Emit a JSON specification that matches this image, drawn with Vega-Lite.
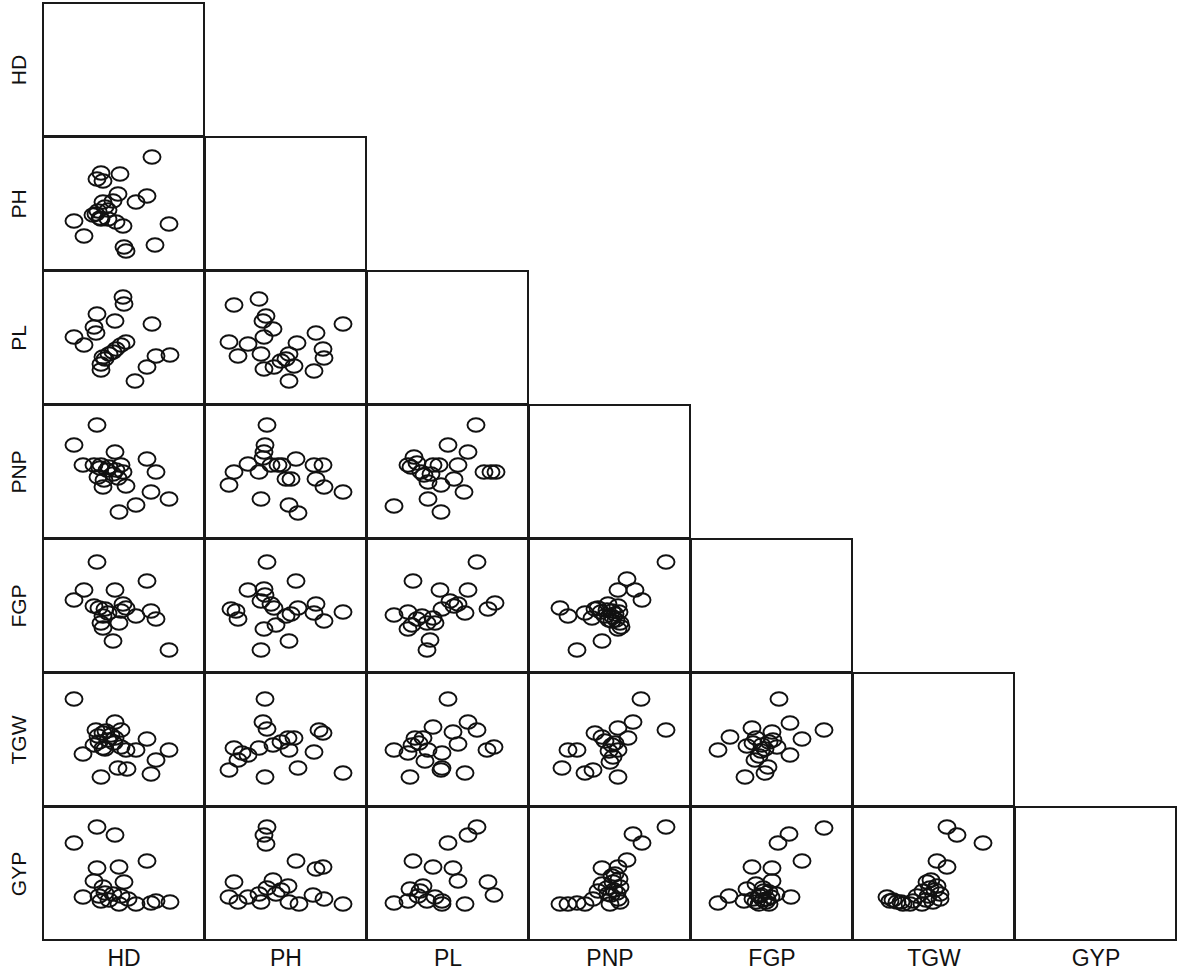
{
"$schema":"https://vega.github.io/schema/vega-lite/v6.json",
"padding":{"left":7,"top":2,"right":5,"bottom":0},
"background":"white",
"config":{
 "view":{"stroke":"#1a1a1a","strokeWidth":2},
 "concat":{"spacing":-2},
 "point":{"shape":"M-1,0A1,0.8,0,1,1,1,0A1,0.8,0,1,1,-1,0Z","filled":false,"stroke":"#111","strokeWidth":1.9,"size":290,"opacity":1},
 "axis":{"ticks":false,"labels":false,"domain":false,"grid":false,"titleFont":"Liberation Sans","titleFontWeight":"normal","titleColor":"#111"},
 "axisX":{"titleFontSize":23,"titlePadding":7},
 "axisY":{"titleFontSize":21,"titlePadding":14}
},
"datasets":{"pts":[
{"r":"PH","c":"HD","x":109,"y":113},{"r":"PH","c":"HD","x":58,"y":97},{"r":"PH","c":"HD","x":54,"y":91},{"r":"PH","c":"HD","x":60,"y":89},{"r":"PH","c":"HD","x":77,"y":96},{"r":"PH","c":"HD","x":75,"y":76},{"r":"PH","c":"HD","x":60,"y":68},{"r":"PH","c":"HD","x":70,"y":69},{"r":"PH","c":"HD","x":93,"y":68},{"r":"PH","c":"HD","x":104,"y":74},{"r":"PH","c":"HD","x":31,"y":49},{"r":"PH","c":"HD","x":41,"y":34},{"r":"PH","c":"HD","x":53,"y":56},{"r":"PH","c":"HD","x":58,"y":51},{"r":"PH","c":"HD","x":65,"y":51},{"r":"PH","c":"HD","x":73,"y":48},{"r":"PH","c":"HD","x":80,"y":44},{"r":"PH","c":"HD","x":126,"y":46},{"r":"PH","c":"HD","x":112,"y":25},{"r":"PH","c":"HD","x":81,"y":23},{"r":"PH","c":"HD","x":83,"y":19},{"r":"PH","c":"HD","x":55,"y":59},{"r":"PH","c":"HD","x":65,"y":60},{"r":"PH","c":"HD","x":62,"y":63},{"r":"PH","c":"HD","x":50,"y":55},{"r":"PH","c":"HD","x":57,"y":52},
{"r":"PL","c":"HD","x":80,"y":107},{"r":"PL","c":"HD","x":81,"y":100},{"r":"PL","c":"HD","x":54,"y":90},{"r":"PL","c":"HD","x":72,"y":83},{"r":"PL","c":"HD","x":109,"y":80},{"r":"PL","c":"HD","x":51,"y":77},{"r":"PL","c":"HD","x":53,"y":71},{"r":"PL","c":"HD","x":31,"y":67},{"r":"PL","c":"HD","x":41,"y":59},{"r":"PL","c":"HD","x":83,"y":62},{"r":"PL","c":"HD","x":78,"y":59},{"r":"PL","c":"HD","x":73,"y":55},{"r":"PL","c":"HD","x":66,"y":50},{"r":"PL","c":"HD","x":60,"y":47},{"r":"PL","c":"HD","x":58,"y":40},{"r":"PL","c":"HD","x":58,"y":34},{"r":"PL","c":"HD","x":113,"y":48},{"r":"PL","c":"HD","x":127,"y":49},{"r":"PL","c":"HD","x":104,"y":37},{"r":"PL","c":"HD","x":92,"y":23},{"r":"PL","c":"HD","x":70,"y":52},{"r":"PL","c":"HD","x":62,"y":45},
{"r":"PL","c":"PH","x":29,"y":99},{"r":"PL","c":"PH","x":54,"y":105},{"r":"PL","c":"PH","x":61,"y":88},{"r":"PL","c":"PH","x":58,"y":83},{"r":"PL","c":"PH","x":68,"y":75},{"r":"PL","c":"PH","x":59,"y":67},{"r":"PL","c":"PH","x":24,"y":62},{"r":"PL","c":"PH","x":43,"y":60},{"r":"PL","c":"PH","x":33,"y":48},{"r":"PL","c":"PH","x":56,"y":50},{"r":"PL","c":"PH","x":92,"y":61},{"r":"PL","c":"PH","x":111,"y":71},{"r":"PL","c":"PH","x":138,"y":80},{"r":"PL","c":"PH","x":118,"y":55},{"r":"PL","c":"PH","x":119,"y":46},{"r":"PL","c":"PH","x":84,"y":50},{"r":"PL","c":"PH","x":81,"y":45},{"r":"PL","c":"PH","x":89,"y":38},{"r":"PL","c":"PH","x":69,"y":37},{"r":"PL","c":"PH","x":59,"y":35},{"r":"PL","c":"PH","x":109,"y":33},{"r":"PL","c":"PH","x":84,"y":23},{"r":"PL","c":"PH","x":76,"y":43},
{"r":"PNP","c":"HD","x":54,"y":113},{"r":"PNP","c":"HD","x":31,"y":93},{"r":"PNP","c":"HD","x":72,"y":86},{"r":"PNP","c":"HD","x":40,"y":73},{"r":"PNP","c":"HD","x":51,"y":73},{"r":"PNP","c":"HD","x":58,"y":73},{"r":"PNP","c":"HD","x":66,"y":71},{"r":"PNP","c":"HD","x":78,"y":73},{"r":"PNP","c":"HD","x":80,"y":66},{"r":"PNP","c":"HD","x":55,"y":61},{"r":"PNP","c":"HD","x":61,"y":58},{"r":"PNP","c":"HD","x":70,"y":64},{"r":"PNP","c":"HD","x":60,"y":51},{"r":"PNP","c":"HD","x":83,"y":52},{"r":"PNP","c":"HD","x":104,"y":79},{"r":"PNP","c":"HD","x":113,"y":66},{"r":"PNP","c":"HD","x":108,"y":46},{"r":"PNP","c":"HD","x":126,"y":39},{"r":"PNP","c":"HD","x":93,"y":33},{"r":"PNP","c":"HD","x":76,"y":26},{"r":"PNP","c":"HD","x":64,"y":68},{"r":"PNP","c":"HD","x":75,"y":60},{"r":"PNP","c":"HD","x":57,"y":70},{"r":"PNP","c":"HD","x":73,"y":68},
{"r":"PNP","c":"PH","x":62,"y":113},{"r":"PNP","c":"PH","x":60,"y":93},{"r":"PNP","c":"PH","x":59,"y":86},{"r":"PNP","c":"PH","x":29,"y":66},{"r":"PNP","c":"PH","x":43,"y":74},{"r":"PNP","c":"PH","x":54,"y":66},{"r":"PNP","c":"PH","x":66,"y":73},{"r":"PNP","c":"PH","x":73,"y":73},{"r":"PNP","c":"PH","x":91,"y":79},{"r":"PNP","c":"PH","x":109,"y":73},{"r":"PNP","c":"PH","x":118,"y":73},{"r":"PNP","c":"PH","x":81,"y":59},{"r":"PNP","c":"PH","x":86,"y":59},{"r":"PNP","c":"PH","x":111,"y":59},{"r":"PNP","c":"PH","x":119,"y":51},{"r":"PNP","c":"PH","x":138,"y":46},{"r":"PNP","c":"PH","x":24,"y":53},{"r":"PNP","c":"PH","x":56,"y":39},{"r":"PNP","c":"PH","x":84,"y":33},{"r":"PNP","c":"PH","x":93,"y":25},{"r":"PNP","c":"PH","x":58,"y":80},{"r":"PNP","c":"PH","x":77,"y":73},
{"r":"PNP","c":"PL","x":109,"y":113},{"r":"PNP","c":"PL","x":81,"y":93},{"r":"PNP","c":"PL","x":101,"y":86},{"r":"PNP","c":"PL","x":47,"y":81},{"r":"PNP","c":"PL","x":41,"y":73},{"r":"PNP","c":"PL","x":44,"y":71},{"r":"PNP","c":"PL","x":66,"y":73},{"r":"PNP","c":"PL","x":72,"y":73},{"r":"PNP","c":"PL","x":91,"y":73},{"r":"PNP","c":"PL","x":57,"y":63},{"r":"PNP","c":"PL","x":61,"y":56},{"r":"PNP","c":"PL","x":74,"y":53},{"r":"PNP","c":"PL","x":87,"y":59},{"r":"PNP","c":"PL","x":97,"y":46},{"r":"PNP","c":"PL","x":117,"y":66},{"r":"PNP","c":"PL","x":124,"y":66},{"r":"PNP","c":"PL","x":129,"y":66},{"r":"PNP","c":"PL","x":27,"y":32},{"r":"PNP","c":"PL","x":61,"y":39},{"r":"PNP","c":"PL","x":74,"y":26},{"r":"PNP","c":"PL","x":54,"y":66},{"r":"PNP","c":"PL","x":50,"y":75},{"r":"PNP","c":"PL","x":64,"y":64},
{"r":"FGP","c":"HD","x":54,"y":110},{"r":"FGP","c":"HD","x":104,"y":91},{"r":"FGP","c":"HD","x":41,"y":82},{"r":"FGP","c":"HD","x":72,"y":82},{"r":"FGP","c":"HD","x":31,"y":72},{"r":"FGP","c":"HD","x":51,"y":66},{"r":"FGP","c":"HD","x":56,"y":64},{"r":"FGP","c":"HD","x":80,"y":68},{"r":"FGP","c":"HD","x":83,"y":64},{"r":"FGP","c":"HD","x":78,"y":61},{"r":"FGP","c":"HD","x":60,"y":56},{"r":"FGP","c":"HD","x":58,"y":49},{"r":"FGP","c":"HD","x":60,"y":44},{"r":"FGP","c":"HD","x":76,"y":49},{"r":"FGP","c":"HD","x":93,"y":56},{"r":"FGP","c":"HD","x":108,"y":61},{"r":"FGP","c":"HD","x":113,"y":53},{"r":"FGP","c":"HD","x":70,"y":31},{"r":"FGP","c":"HD","x":126,"y":22},{"r":"FGP","c":"HD","x":65,"y":59},{"r":"FGP","c":"HD","x":62,"y":63},
{"r":"FGP","c":"PH","x":62,"y":110},{"r":"FGP","c":"PH","x":91,"y":91},{"r":"FGP","c":"PH","x":43,"y":82},{"r":"FGP","c":"PH","x":59,"y":83},{"r":"FGP","c":"PH","x":56,"y":71},{"r":"FGP","c":"PH","x":66,"y":68},{"r":"FGP","c":"PH","x":26,"y":63},{"r":"FGP","c":"PH","x":31,"y":61},{"r":"FGP","c":"PH","x":33,"y":53},{"r":"FGP","c":"PH","x":69,"y":64},{"r":"FGP","c":"PH","x":81,"y":56},{"r":"FGP","c":"PH","x":93,"y":64},{"r":"FGP","c":"PH","x":111,"y":68},{"r":"FGP","c":"PH","x":109,"y":59},{"r":"FGP","c":"PH","x":119,"y":51},{"r":"FGP","c":"PH","x":138,"y":60},{"r":"FGP","c":"PH","x":59,"y":43},{"r":"FGP","c":"PH","x":71,"y":47},{"r":"FGP","c":"PH","x":84,"y":31},{"r":"FGP","c":"PH","x":56,"y":22},{"r":"FGP","c":"PH","x":86,"y":58},{"r":"FGP","c":"PH","x":60,"y":77},
{"r":"FGP","c":"PL","x":110,"y":110},{"r":"FGP","c":"PL","x":46,"y":91},{"r":"FGP","c":"PL","x":73,"y":82},{"r":"FGP","c":"PL","x":101,"y":82},{"r":"FGP","c":"PL","x":83,"y":71},{"r":"FGP","c":"PL","x":91,"y":68},{"r":"FGP","c":"PL","x":75,"y":63},{"r":"FGP","c":"PL","x":98,"y":59},{"r":"FGP","c":"PL","x":128,"y":69},{"r":"FGP","c":"PL","x":121,"y":63},{"r":"FGP","c":"PL","x":27,"y":57},{"r":"FGP","c":"PL","x":41,"y":60},{"r":"FGP","c":"PL","x":55,"y":56},{"r":"FGP","c":"PL","x":66,"y":54},{"r":"FGP","c":"PL","x":45,"y":47},{"r":"FGP","c":"PL","x":41,"y":43},{"r":"FGP","c":"PL","x":60,"y":49},{"r":"FGP","c":"PL","x":68,"y":49},{"r":"FGP","c":"PL","x":63,"y":32},{"r":"FGP","c":"PL","x":60,"y":22},{"r":"FGP","c":"PL","x":87,"y":66},{"r":"FGP","c":"PL","x":50,"y":53},
{"r":"FGP","c":"PNP","x":137,"y":110},{"r":"FGP","c":"PNP","x":98,"y":93},{"r":"FGP","c":"PNP","x":89,"y":82},{"r":"FGP","c":"PNP","x":106,"y":82},{"r":"FGP","c":"PNP","x":113,"y":72},{"r":"FGP","c":"PNP","x":31,"y":64},{"r":"FGP","c":"PNP","x":39,"y":56},{"r":"FGP","c":"PNP","x":56,"y":59},{"r":"FGP","c":"PNP","x":63,"y":54},{"r":"FGP","c":"PNP","x":69,"y":64},{"r":"FGP","c":"PNP","x":79,"y":68},{"r":"FGP","c":"PNP","x":89,"y":66},{"r":"FGP","c":"PNP","x":76,"y":56},{"r":"FGP","c":"PNP","x":86,"y":58},{"r":"FGP","c":"PNP","x":91,"y":49},{"r":"FGP","c":"PNP","x":89,"y":43},{"r":"FGP","c":"PNP","x":83,"y":51},{"r":"FGP","c":"PNP","x":73,"y":31},{"r":"FGP","c":"PNP","x":48,"y":22},{"r":"FGP","c":"PNP","x":66,"y":63},{"r":"FGP","c":"PNP","x":83,"y":61},{"r":"FGP","c":"PNP","x":72,"y":60},{"r":"FGP","c":"PNP","x":80,"y":52},{"r":"FGP","c":"PNP","x":78,"y":62},{"r":"FGP","c":"PNP","x":84,"y":55},{"r":"FGP","c":"PNP","x":90,"y":60},{"r":"FGP","c":"PNP","x":87,"y":52},{"r":"FGP","c":"PNP","x":92,"y":45},
{"r":"TGW","c":"HD","x":31,"y":107},{"r":"TGW","c":"HD","x":72,"y":84},{"r":"TGW","c":"HD","x":53,"y":76},{"r":"TGW","c":"HD","x":60,"y":73},{"r":"TGW","c":"HD","x":68,"y":71},{"r":"TGW","c":"HD","x":78,"y":76},{"r":"TGW","c":"HD","x":56,"y":64},{"r":"TGW","c":"HD","x":51,"y":61},{"r":"TGW","c":"HD","x":60,"y":58},{"r":"TGW","c":"HD","x":78,"y":59},{"r":"TGW","c":"HD","x":83,"y":56},{"r":"TGW","c":"HD","x":93,"y":56},{"r":"TGW","c":"HD","x":104,"y":67},{"r":"TGW","c":"HD","x":126,"y":56},{"r":"TGW","c":"HD","x":40,"y":52},{"r":"TGW","c":"HD","x":113,"y":46},{"r":"TGW","c":"HD","x":108,"y":32},{"r":"TGW","c":"HD","x":75,"y":38},{"r":"TGW","c":"HD","x":84,"y":37},{"r":"TGW","c":"HD","x":58,"y":29},{"r":"TGW","c":"HD","x":65,"y":66},{"r":"TGW","c":"HD","x":71,"y":63},{"r":"TGW","c":"HD","x":55,"y":70},{"r":"TGW","c":"HD","x":63,"y":75},{"r":"TGW","c":"HD","x":72,"y":68},{"r":"TGW","c":"HD","x":62,"y":57},
{"r":"TGW","c":"PH","x":60,"y":107},{"r":"TGW","c":"PH","x":58,"y":84},{"r":"TGW","c":"PH","x":62,"y":77},{"r":"TGW","c":"PH","x":29,"y":58},{"r":"TGW","c":"PH","x":43,"y":51},{"r":"TGW","c":"PH","x":33,"y":46},{"r":"TGW","c":"PH","x":24,"y":36},{"r":"TGW","c":"PH","x":54,"y":58},{"r":"TGW","c":"PH","x":68,"y":61},{"r":"TGW","c":"PH","x":83,"y":68},{"r":"TGW","c":"PH","x":89,"y":68},{"r":"TGW","c":"PH","x":84,"y":56},{"r":"TGW","c":"PH","x":114,"y":76},{"r":"TGW","c":"PH","x":118,"y":73},{"r":"TGW","c":"PH","x":109,"y":54},{"r":"TGW","c":"PH","x":93,"y":38},{"r":"TGW","c":"PH","x":60,"y":29},{"r":"TGW","c":"PH","x":138,"y":33},{"r":"TGW","c":"PH","x":76,"y":64},{"r":"TGW","c":"PH","x":37,"y":53},
{"r":"TGW","c":"PL","x":81,"y":107},{"r":"TGW","c":"PL","x":101,"y":84},{"r":"TGW","c":"PL","x":110,"y":76},{"r":"TGW","c":"PL","x":86,"y":74},{"r":"TGW","c":"PL","x":66,"y":79},{"r":"TGW","c":"PL","x":48,"y":68},{"r":"TGW","c":"PL","x":56,"y":68},{"r":"TGW","c":"PL","x":45,"y":61},{"r":"TGW","c":"PL","x":61,"y":56},{"r":"TGW","c":"PL","x":91,"y":62},{"r":"TGW","c":"PL","x":27,"y":56},{"r":"TGW","c":"PL","x":41,"y":53},{"r":"TGW","c":"PL","x":75,"y":53},{"r":"TGW","c":"PL","x":58,"y":45},{"r":"TGW","c":"PL","x":75,"y":38},{"r":"TGW","c":"PL","x":120,"y":56},{"r":"TGW","c":"PL","x":127,"y":59},{"r":"TGW","c":"PL","x":98,"y":33},{"r":"TGW","c":"PL","x":43,"y":29},{"r":"TGW","c":"PL","x":52,"y":63},{"r":"TGW","c":"PL","x":74,"y":36},
{"r":"TGW","c":"PNP","x":112,"y":107},{"r":"TGW","c":"PNP","x":137,"y":76},{"r":"TGW","c":"PNP","x":104,"y":84},{"r":"TGW","c":"PNP","x":89,"y":78},{"r":"TGW","c":"PNP","x":66,"y":73},{"r":"TGW","c":"PNP","x":73,"y":69},{"r":"TGW","c":"PNP","x":99,"y":68},{"r":"TGW","c":"PNP","x":83,"y":61},{"r":"TGW","c":"PNP","x":89,"y":56},{"r":"TGW","c":"PNP","x":84,"y":49},{"r":"TGW","c":"PNP","x":39,"y":56},{"r":"TGW","c":"PNP","x":48,"y":56},{"r":"TGW","c":"PNP","x":33,"y":38},{"r":"TGW","c":"PNP","x":56,"y":33},{"r":"TGW","c":"PNP","x":64,"y":36},{"r":"TGW","c":"PNP","x":81,"y":44},{"r":"TGW","c":"PNP","x":89,"y":29},{"r":"TGW","c":"PNP","x":76,"y":65},{"r":"TGW","c":"PNP","x":86,"y":63},{"r":"TGW","c":"PNP","x":80,"y":55},
{"r":"TGW","c":"FGP","x":88,"y":107},{"r":"TGW","c":"FGP","x":99,"y":83},{"r":"TGW","c":"FGP","x":133,"y":76},{"r":"TGW","c":"FGP","x":61,"y":78},{"r":"TGW","c":"FGP","x":81,"y":74},{"r":"TGW","c":"FGP","x":39,"y":69},{"r":"TGW","c":"FGP","x":27,"y":56},{"r":"TGW","c":"FGP","x":56,"y":60},{"r":"TGW","c":"FGP","x":71,"y":61},{"r":"TGW","c":"FGP","x":86,"y":59},{"r":"TGW","c":"FGP","x":111,"y":67},{"r":"TGW","c":"FGP","x":99,"y":51},{"r":"TGW","c":"FGP","x":64,"y":46},{"r":"TGW","c":"FGP","x":77,"y":39},{"r":"TGW","c":"FGP","x":74,"y":33},{"r":"TGW","c":"FGP","x":54,"y":29},{"r":"TGW","c":"FGP","x":65,"y":68},{"r":"TGW","c":"FGP","x":70,"y":55},{"r":"TGW","c":"FGP","x":78,"y":64},{"r":"TGW","c":"FGP","x":62,"y":63},{"r":"TGW","c":"FGP","x":74,"y":57},{"r":"TGW","c":"FGP","x":68,"y":50},{"r":"TGW","c":"FGP","x":82,"y":66},
{"r":"GYP","c":"HD","x":54,"y":113},{"r":"GYP","c":"HD","x":72,"y":105},{"r":"GYP","c":"HD","x":31,"y":97},{"r":"GYP","c":"HD","x":104,"y":79},{"r":"GYP","c":"HD","x":54,"y":72},{"r":"GYP","c":"HD","x":76,"y":73},{"r":"GYP","c":"HD","x":51,"y":59},{"r":"GYP","c":"HD","x":81,"y":58},{"r":"GYP","c":"HD","x":60,"y":53},{"r":"GYP","c":"HD","x":40,"y":43},{"r":"GYP","c":"HD","x":56,"y":44},{"r":"GYP","c":"HD","x":58,"y":39},{"r":"GYP","c":"HD","x":70,"y":46},{"r":"GYP","c":"HD","x":78,"y":44},{"r":"GYP","c":"HD","x":85,"y":41},{"r":"GYP","c":"HD","x":76,"y":36},{"r":"GYP","c":"HD","x":93,"y":36},{"r":"GYP","c":"HD","x":108,"y":37},{"r":"GYP","c":"HD","x":113,"y":39},{"r":"GYP","c":"HD","x":127,"y":38},{"r":"GYP","c":"HD","x":62,"y":47},{"r":"GYP","c":"HD","x":66,"y":40},
{"r":"GYP","c":"PH","x":62,"y":113},{"r":"GYP","c":"PH","x":59,"y":105},{"r":"GYP","c":"PH","x":61,"y":96},{"r":"GYP","c":"PH","x":91,"y":79},{"r":"GYP","c":"PH","x":111,"y":71},{"r":"GYP","c":"PH","x":118,"y":73},{"r":"GYP","c":"PH","x":29,"y":58},{"r":"GYP","c":"PH","x":68,"y":60},{"r":"GYP","c":"PH","x":83,"y":54},{"r":"GYP","c":"PH","x":24,"y":43},{"r":"GYP","c":"PH","x":33,"y":38},{"r":"GYP","c":"PH","x":43,"y":43},{"r":"GYP","c":"PH","x":54,"y":46},{"r":"GYP","c":"PH","x":56,"y":38},{"r":"GYP","c":"PH","x":71,"y":46},{"r":"GYP","c":"PH","x":84,"y":38},{"r":"GYP","c":"PH","x":94,"y":36},{"r":"GYP","c":"PH","x":108,"y":45},{"r":"GYP","c":"PH","x":119,"y":41},{"r":"GYP","c":"PH","x":138,"y":36},{"r":"GYP","c":"PH","x":76,"y":50},{"r":"GYP","c":"PH","x":62,"y":52},
{"r":"GYP","c":"PL","x":110,"y":113},{"r":"GYP","c":"PL","x":101,"y":105},{"r":"GYP","c":"PL","x":81,"y":97},{"r":"GYP","c":"PL","x":46,"y":79},{"r":"GYP","c":"PL","x":66,"y":73},{"r":"GYP","c":"PL","x":86,"y":72},{"r":"GYP","c":"PL","x":91,"y":59},{"r":"GYP","c":"PL","x":121,"y":58},{"r":"GYP","c":"PL","x":127,"y":45},{"r":"GYP","c":"PL","x":27,"y":37},{"r":"GYP","c":"PL","x":43,"y":51},{"r":"GYP","c":"PL","x":56,"y":54},{"r":"GYP","c":"PL","x":41,"y":39},{"r":"GYP","c":"PL","x":51,"y":44},{"r":"GYP","c":"PL","x":60,"y":39},{"r":"GYP","c":"PL","x":68,"y":43},{"r":"GYP","c":"PL","x":75,"y":39},{"r":"GYP","c":"PL","x":75,"y":36},{"r":"GYP","c":"PL","x":98,"y":36},{"r":"GYP","c":"PL","x":53,"y":49},
{"r":"GYP","c":"PNP","x":137,"y":113},{"r":"GYP","c":"PNP","x":104,"y":106},{"r":"GYP","c":"PNP","x":113,"y":97},{"r":"GYP","c":"PNP","x":98,"y":80},{"r":"GYP","c":"PNP","x":89,"y":73},{"r":"GYP","c":"PNP","x":73,"y":72},{"r":"GYP","c":"PNP","x":73,"y":56},{"r":"GYP","c":"PNP","x":84,"y":58},{"r":"GYP","c":"PNP","x":91,"y":53},{"r":"GYP","c":"PNP","x":79,"y":46},{"r":"GYP","c":"PNP","x":89,"y":41},{"r":"GYP","c":"PNP","x":64,"y":41},{"r":"GYP","c":"PNP","x":81,"y":36},{"r":"GYP","c":"PNP","x":31,"y":36},{"r":"GYP","c":"PNP","x":39,"y":36},{"r":"GYP","c":"PNP","x":48,"y":37},{"r":"GYP","c":"PNP","x":56,"y":36},{"r":"GYP","c":"PNP","x":69,"y":49},{"r":"GYP","c":"PNP","x":83,"y":64},{"r":"GYP","c":"PNP","x":90,"y":61},{"r":"GYP","c":"PNP","x":78,"y":52},{"r":"GYP","c":"PNP","x":88,"y":47},{"r":"GYP","c":"PNP","x":86,"y":66},{"r":"GYP","c":"PNP","x":82,"y":45},{"r":"GYP","c":"PNP","x":91,"y":38},{"r":"GYP","c":"PNP","x":85,"y":50},
{"r":"GYP","c":"FGP","x":133,"y":112},{"r":"GYP","c":"FGP","x":98,"y":106},{"r":"GYP","c":"FGP","x":87,"y":97},{"r":"GYP","c":"FGP","x":111,"y":79},{"r":"GYP","c":"FGP","x":61,"y":73},{"r":"GYP","c":"FGP","x":81,"y":72},{"r":"GYP","c":"FGP","x":81,"y":59},{"r":"GYP","c":"FGP","x":65,"y":56},{"r":"GYP","c":"FGP","x":56,"y":51},{"r":"GYP","c":"FGP","x":38,"y":44},{"r":"GYP","c":"FGP","x":27,"y":37},{"r":"GYP","c":"FGP","x":53,"y":39},{"r":"GYP","c":"FGP","x":68,"y":44},{"r":"GYP","c":"FGP","x":76,"y":41},{"r":"GYP","c":"FGP","x":68,"y":36},{"r":"GYP","c":"FGP","x":78,"y":36},{"r":"GYP","c":"FGP","x":85,"y":46},{"r":"GYP","c":"FGP","x":100,"y":43},{"r":"GYP","c":"FGP","x":73,"y":49},{"r":"GYP","c":"FGP","x":72,"y":40},{"r":"GYP","c":"FGP","x":62,"y":41},{"r":"GYP","c":"FGP","x":70,"y":45},{"r":"GYP","c":"FGP","x":75,"y":38},{"r":"GYP","c":"FGP","x":80,"y":43},{"r":"GYP","c":"FGP","x":65,"y":38},{"r":"GYP","c":"FGP","x":72,"y":52},{"r":"GYP","c":"FGP","x":78,"y":48},
{"r":"GYP","c":"TGW","x":94,"y":113},{"r":"GYP","c":"TGW","x":104,"y":105},{"r":"GYP","c":"TGW","x":130,"y":97},{"r":"GYP","c":"TGW","x":84,"y":79},{"r":"GYP","c":"TGW","x":94,"y":73},{"r":"GYP","c":"TGW","x":74,"y":58},{"r":"GYP","c":"TGW","x":84,"y":54},{"r":"GYP","c":"TGW","x":70,"y":49},{"r":"GYP","c":"TGW","x":87,"y":46},{"r":"GYP","c":"TGW","x":37,"y":39},{"r":"GYP","c":"TGW","x":44,"y":38},{"r":"GYP","c":"TGW","x":50,"y":36},{"r":"GYP","c":"TGW","x":60,"y":39},{"r":"GYP","c":"TGW","x":69,"y":36},{"r":"GYP","c":"TGW","x":80,"y":38},{"r":"GYP","c":"TGW","x":87,"y":41},{"r":"GYP","c":"TGW","x":34,"y":43},{"r":"GYP","c":"TGW","x":57,"y":36},{"r":"GYP","c":"TGW","x":77,"y":52},{"r":"GYP","c":"TGW","x":64,"y":44},{"r":"GYP","c":"TGW","x":78,"y":60},{"r":"GYP","c":"TGW","x":82,"y":50},{"r":"GYP","c":"TGW","x":75,"y":44},{"r":"GYP","c":"TGW","x":40,"y":40},{"r":"GYP","c":"TGW","x":48,"y":38},{"r":"GYP","c":"TGW","x":73,"y":40}
]},
"spacing":-2,
"vconcat":[
 {"spacing":-2,"hconcat":[
  {"width":161,"height":133,"data":{"name":"pts"},"transform":[{"filter":"false"}],"mark":"point","encoding":{"x":{"field":"x","type":"quantitative","scale":{"domain":[0,161],"nice":false,"zero":false},"axis":null},"y":{"field":"y","type":"quantitative","scale":{"domain":[0,133],"nice":false,"zero":false},"title":"HD","axis":{}}}}
 ]},
 {"spacing":-2,"hconcat":[
  {"width":161,"height":133,"data":{"name":"pts"},"transform":[{"filter":"datum.r=='PH'&&datum.c=='HD'"}],"mark":"point","encoding":{"x":{"field":"x","type":"quantitative","scale":{"domain":[0,161],"nice":false,"zero":false},"axis":null},"y":{"field":"y","type":"quantitative","scale":{"domain":[0,133],"nice":false,"zero":false},"title":"PH","axis":{}}}},
  {"width":161,"height":133,"data":{"name":"pts"},"transform":[{"filter":"false"}],"mark":"point","encoding":{"x":{"field":"x","type":"quantitative","scale":{"domain":[0,161],"nice":false,"zero":false},"axis":null},"y":{"field":"y","type":"quantitative","scale":{"domain":[0,133],"nice":false,"zero":false},"axis":null}}}
 ]},
 {"spacing":-2,"hconcat":[
  {"width":161,"height":133,"data":{"name":"pts"},"transform":[{"filter":"datum.r=='PL'&&datum.c=='HD'"}],"mark":"point","encoding":{"x":{"field":"x","type":"quantitative","scale":{"domain":[0,161],"nice":false,"zero":false},"axis":null},"y":{"field":"y","type":"quantitative","scale":{"domain":[0,133],"nice":false,"zero":false},"title":"PL","axis":{}}}},
  {"width":161,"height":133,"data":{"name":"pts"},"transform":[{"filter":"datum.r=='PL'&&datum.c=='PH'"}],"mark":"point","encoding":{"x":{"field":"x","type":"quantitative","scale":{"domain":[0,161],"nice":false,"zero":false},"axis":null},"y":{"field":"y","type":"quantitative","scale":{"domain":[0,133],"nice":false,"zero":false},"axis":null}}},
  {"width":161,"height":133,"data":{"name":"pts"},"transform":[{"filter":"false"}],"mark":"point","encoding":{"x":{"field":"x","type":"quantitative","scale":{"domain":[0,161],"nice":false,"zero":false},"axis":null},"y":{"field":"y","type":"quantitative","scale":{"domain":[0,133],"nice":false,"zero":false},"axis":null}}}
 ]},
 {"spacing":-2,"hconcat":[
  {"width":161,"height":133,"data":{"name":"pts"},"transform":[{"filter":"datum.r=='PNP'&&datum.c=='HD'"}],"mark":"point","encoding":{"x":{"field":"x","type":"quantitative","scale":{"domain":[0,161],"nice":false,"zero":false},"axis":null},"y":{"field":"y","type":"quantitative","scale":{"domain":[0,133],"nice":false,"zero":false},"title":"PNP","axis":{}}}},
  {"width":161,"height":133,"data":{"name":"pts"},"transform":[{"filter":"datum.r=='PNP'&&datum.c=='PH'"}],"mark":"point","encoding":{"x":{"field":"x","type":"quantitative","scale":{"domain":[0,161],"nice":false,"zero":false},"axis":null},"y":{"field":"y","type":"quantitative","scale":{"domain":[0,133],"nice":false,"zero":false},"axis":null}}},
  {"width":161,"height":133,"data":{"name":"pts"},"transform":[{"filter":"datum.r=='PNP'&&datum.c=='PL'"}],"mark":"point","encoding":{"x":{"field":"x","type":"quantitative","scale":{"domain":[0,161],"nice":false,"zero":false},"axis":null},"y":{"field":"y","type":"quantitative","scale":{"domain":[0,133],"nice":false,"zero":false},"axis":null}}},
  {"width":161,"height":133,"data":{"name":"pts"},"transform":[{"filter":"false"}],"mark":"point","encoding":{"x":{"field":"x","type":"quantitative","scale":{"domain":[0,161],"nice":false,"zero":false},"axis":null},"y":{"field":"y","type":"quantitative","scale":{"domain":[0,133],"nice":false,"zero":false},"axis":null}}}
 ]},
 {"spacing":-2,"hconcat":[
  {"width":161,"height":133,"data":{"name":"pts"},"transform":[{"filter":"datum.r=='FGP'&&datum.c=='HD'"}],"mark":"point","encoding":{"x":{"field":"x","type":"quantitative","scale":{"domain":[0,161],"nice":false,"zero":false},"axis":null},"y":{"field":"y","type":"quantitative","scale":{"domain":[0,133],"nice":false,"zero":false},"title":"FGP","axis":{}}}},
  {"width":161,"height":133,"data":{"name":"pts"},"transform":[{"filter":"datum.r=='FGP'&&datum.c=='PH'"}],"mark":"point","encoding":{"x":{"field":"x","type":"quantitative","scale":{"domain":[0,161],"nice":false,"zero":false},"axis":null},"y":{"field":"y","type":"quantitative","scale":{"domain":[0,133],"nice":false,"zero":false},"axis":null}}},
  {"width":161,"height":133,"data":{"name":"pts"},"transform":[{"filter":"datum.r=='FGP'&&datum.c=='PL'"}],"mark":"point","encoding":{"x":{"field":"x","type":"quantitative","scale":{"domain":[0,161],"nice":false,"zero":false},"axis":null},"y":{"field":"y","type":"quantitative","scale":{"domain":[0,133],"nice":false,"zero":false},"axis":null}}},
  {"width":161,"height":133,"data":{"name":"pts"},"transform":[{"filter":"datum.r=='FGP'&&datum.c=='PNP'"}],"mark":"point","encoding":{"x":{"field":"x","type":"quantitative","scale":{"domain":[0,161],"nice":false,"zero":false},"axis":null},"y":{"field":"y","type":"quantitative","scale":{"domain":[0,133],"nice":false,"zero":false},"axis":null}}},
  {"width":161,"height":133,"data":{"name":"pts"},"transform":[{"filter":"false"}],"mark":"point","encoding":{"x":{"field":"x","type":"quantitative","scale":{"domain":[0,161],"nice":false,"zero":false},"axis":null},"y":{"field":"y","type":"quantitative","scale":{"domain":[0,133],"nice":false,"zero":false},"axis":null}}}
 ]},
 {"spacing":-2,"hconcat":[
  {"width":161,"height":133,"data":{"name":"pts"},"transform":[{"filter":"datum.r=='TGW'&&datum.c=='HD'"}],"mark":"point","encoding":{"x":{"field":"x","type":"quantitative","scale":{"domain":[0,161],"nice":false,"zero":false},"axis":null},"y":{"field":"y","type":"quantitative","scale":{"domain":[0,133],"nice":false,"zero":false},"title":"TGW","axis":{}}}},
  {"width":161,"height":133,"data":{"name":"pts"},"transform":[{"filter":"datum.r=='TGW'&&datum.c=='PH'"}],"mark":"point","encoding":{"x":{"field":"x","type":"quantitative","scale":{"domain":[0,161],"nice":false,"zero":false},"axis":null},"y":{"field":"y","type":"quantitative","scale":{"domain":[0,133],"nice":false,"zero":false},"axis":null}}},
  {"width":161,"height":133,"data":{"name":"pts"},"transform":[{"filter":"datum.r=='TGW'&&datum.c=='PL'"}],"mark":"point","encoding":{"x":{"field":"x","type":"quantitative","scale":{"domain":[0,161],"nice":false,"zero":false},"axis":null},"y":{"field":"y","type":"quantitative","scale":{"domain":[0,133],"nice":false,"zero":false},"axis":null}}},
  {"width":161,"height":133,"data":{"name":"pts"},"transform":[{"filter":"datum.r=='TGW'&&datum.c=='PNP'"}],"mark":"point","encoding":{"x":{"field":"x","type":"quantitative","scale":{"domain":[0,161],"nice":false,"zero":false},"axis":null},"y":{"field":"y","type":"quantitative","scale":{"domain":[0,133],"nice":false,"zero":false},"axis":null}}},
  {"width":161,"height":133,"data":{"name":"pts"},"transform":[{"filter":"datum.r=='TGW'&&datum.c=='FGP'"}],"mark":"point","encoding":{"x":{"field":"x","type":"quantitative","scale":{"domain":[0,161],"nice":false,"zero":false},"axis":null},"y":{"field":"y","type":"quantitative","scale":{"domain":[0,133],"nice":false,"zero":false},"axis":null}}},
  {"width":161,"height":133,"data":{"name":"pts"},"transform":[{"filter":"false"}],"mark":"point","encoding":{"x":{"field":"x","type":"quantitative","scale":{"domain":[0,161],"nice":false,"zero":false},"axis":null},"y":{"field":"y","type":"quantitative","scale":{"domain":[0,133],"nice":false,"zero":false},"axis":null}}}
 ]},
 {"spacing":-2,"hconcat":[
  {"width":161,"height":133,"data":{"name":"pts"},"transform":[{"filter":"datum.r=='GYP'&&datum.c=='HD'"}],"mark":"point","encoding":{"x":{"field":"x","type":"quantitative","scale":{"domain":[0,161],"nice":false,"zero":false},"title":"HD","axis":{}},"y":{"field":"y","type":"quantitative","scale":{"domain":[0,133],"nice":false,"zero":false},"title":"GYP","axis":{}}}},
  {"width":161,"height":133,"data":{"name":"pts"},"transform":[{"filter":"datum.r=='GYP'&&datum.c=='PH'"}],"mark":"point","encoding":{"x":{"field":"x","type":"quantitative","scale":{"domain":[0,161],"nice":false,"zero":false},"title":"PH","axis":{}},"y":{"field":"y","type":"quantitative","scale":{"domain":[0,133],"nice":false,"zero":false},"axis":null}}},
  {"width":161,"height":133,"data":{"name":"pts"},"transform":[{"filter":"datum.r=='GYP'&&datum.c=='PL'"}],"mark":"point","encoding":{"x":{"field":"x","type":"quantitative","scale":{"domain":[0,161],"nice":false,"zero":false},"title":"PL","axis":{}},"y":{"field":"y","type":"quantitative","scale":{"domain":[0,133],"nice":false,"zero":false},"axis":null}}},
  {"width":161,"height":133,"data":{"name":"pts"},"transform":[{"filter":"datum.r=='GYP'&&datum.c=='PNP'"}],"mark":"point","encoding":{"x":{"field":"x","type":"quantitative","scale":{"domain":[0,161],"nice":false,"zero":false},"title":"PNP","axis":{}},"y":{"field":"y","type":"quantitative","scale":{"domain":[0,133],"nice":false,"zero":false},"axis":null}}},
  {"width":161,"height":133,"data":{"name":"pts"},"transform":[{"filter":"datum.r=='GYP'&&datum.c=='FGP'"}],"mark":"point","encoding":{"x":{"field":"x","type":"quantitative","scale":{"domain":[0,161],"nice":false,"zero":false},"title":"FGP","axis":{}},"y":{"field":"y","type":"quantitative","scale":{"domain":[0,133],"nice":false,"zero":false},"axis":null}}},
  {"width":161,"height":133,"data":{"name":"pts"},"transform":[{"filter":"datum.r=='GYP'&&datum.c=='TGW'"}],"mark":"point","encoding":{"x":{"field":"x","type":"quantitative","scale":{"domain":[0,161],"nice":false,"zero":false},"title":"TGW","axis":{}},"y":{"field":"y","type":"quantitative","scale":{"domain":[0,133],"nice":false,"zero":false},"axis":null}}},
  {"width":161,"height":133,"data":{"name":"pts"},"transform":[{"filter":"false"}],"mark":"point","encoding":{"x":{"field":"x","type":"quantitative","scale":{"domain":[0,161],"nice":false,"zero":false},"title":"GYP","axis":{}},"y":{"field":"y","type":"quantitative","scale":{"domain":[0,133],"nice":false,"zero":false},"axis":null}}}
 ]}
]
}
